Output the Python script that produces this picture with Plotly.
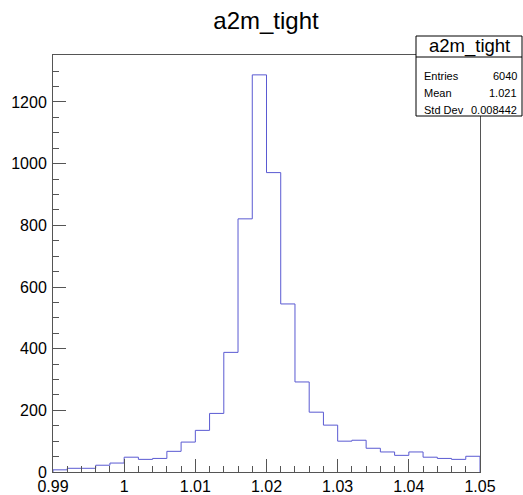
import plotly.graph_objects as go

# ---- data ----
hist_title = "a2m_tight"
x_min = 0.99
x_max = 1.05
bin_width = 0.002
counts = [7, 12, 12, 22, 29, 48, 41, 44, 67, 97,
          135, 190, 388, 821, 1288, 971, 545, 292, 194, 152,
          100, 103, 77, 65, 54, 65, 48, 44, 41, 51]
x_tickvals = [0.99, 1.0, 1.01, 1.02, 1.03, 1.04, 1.05]
x_ticktext = ["0.99", "1", "1.01", "1.02", "1.03", "1.04", "1.05"]
y_tickvals = [0, 200, 400, 600, 800, 1000, 1200]
y_ticktext = ["0", "200", "400", "600", "800", "1000", "1200"]
stats_labels = ["Entries", "Mean", "Std Dev"]
stats_values = ["6040", "1.021", "0.008442"]

# ---- geometry ----
W, H = 523, 495
L, R, T, B = 53, 43, 55, 23
PW = W - L - R
PH = H - T - B


def px(xp):
    return (xp - L) / PW


def py(yp):
    return (H - B - yp) / PH


edges = [x_min + i * bin_width for i in range(len(counts) + 1)]
xs = [edges[0]] + edges
ys = [0] + counts + [counts[-1]]
xs = xs + [edges[-1]]
ys = ys + [0]

ymax = max(counts) * 1.05

FONT = "Liberation Sans, Helvetica, Arial, sans-serif"
AX = "#555555"

fig = go.Figure()
fig.add_trace(go.Scatter(
    x=xs, y=ys, mode="lines", line_shape="hv",
    line=dict(color="#5a5ad2", width=1),
    hoverinfo="skip", showlegend=False,
))

axis_common = dict(
    showline=True, linecolor=AX, linewidth=1, mirror=True,
    showgrid=False, zeroline=False, automargin=False,
    ticks="inside", ticklen=13, tickwidth=1, tickcolor=AX,
    tickfont=dict(family=FONT, size=16, color="black"),
)

fig.update_layout(
    width=W, height=H,
    margin=dict(l=L, r=R, t=T, b=B, pad=0, autoexpand=False),
    paper_bgcolor="white", plot_bgcolor="white",
    font=dict(family=FONT),
    xaxis=dict(range=[x_min, x_max], tickmode="array",
               tickvals=x_tickvals, ticktext=x_ticktext,
               minor=dict(ticks="inside", ticklen=6, dtick=bin_width,
                          tick0=x_min, tickcolor=AX, tickwidth=1, showgrid=False),
               ticklabelstandoff=0,
               **axis_common),
    yaxis=dict(range=[0, ymax], tickmode="array",
               tickvals=y_tickvals, ticktext=y_ticktext,
               minor=dict(ticks="inside", ticklen=6, dtick=50, tick0=0,
                          tickcolor=AX, tickwidth=1, showgrid=False),
               ticklabelstandoff=2,
               **axis_common),
    title=dict(text=hist_title, x=266 / W, xanchor="center",
               y=1 - 21 / H, yanchor="middle", yref="container",
               font=dict(family=FONT, size=24, color="black")),
)

# stats box
bx0, bx1, by0, by1, bsep = 416, 522, 36, 116, 57
fig.add_shape(type="rect", xref="paper", yref="paper",
              x0=px(bx0), x1=px(bx1), y0=py(by1), y1=py(by0),
              line=dict(color="black", width=1), fillcolor="white", layer="above")
fig.add_shape(type="line", xref="paper", yref="paper",
              x0=px(bx0), x1=px(bx1), y0=py(bsep), y1=py(bsep),
              line=dict(color="black", width=1), layer="above")
fig.add_annotation(xref="paper", yref="paper", x=px((bx0 + bx1) / 2), y=py(46.5),
                   text=hist_title, showarrow=False, xanchor="center", yanchor="middle",
                   font=dict(family=FONT, size=18.5, color="black"))
row_y = [76, 93, 110]
for lab, val, ry in zip(stats_labels, stats_values, row_y):
    fig.add_annotation(xref="paper", yref="paper", x=px(bx0 + 6), y=py(ry),
                       text=lab, showarrow=False, xanchor="left", yanchor="middle",
                       font=dict(family=FONT, size=11, color="black"))
    fig.add_annotation(xref="paper", yref="paper", x=px(bx1 - 3), y=py(ry),
                       text=val, showarrow=False, xanchor="right", yanchor="middle",
                       font=dict(family=FONT, size=11, color="black"))

fig.write_html("out.html")
